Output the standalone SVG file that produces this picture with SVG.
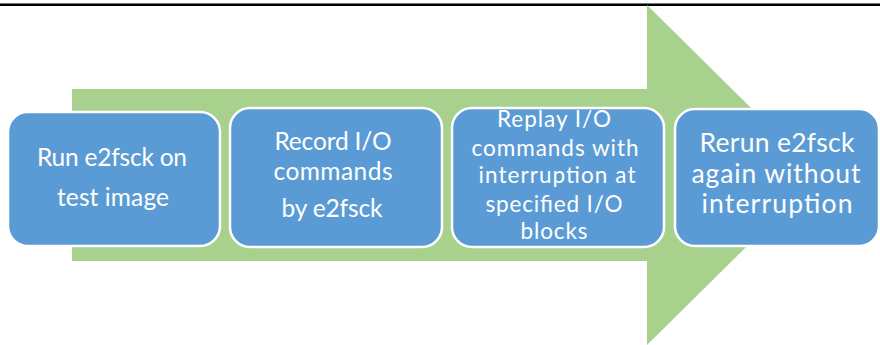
<svg xmlns="http://www.w3.org/2000/svg" width="880" height="345" viewBox="0 0 880 345">
  <style>
    .step rect { fill: #5B9BD5; stroke: #FFFFFF; stroke-width: 2.5; }
    .step text { fill: #FFFFFF; font-family: Lato, "Open Sans", "Liberation Sans", sans-serif; text-anchor: middle; }
    .s1 text, .s2 text { font-size: 24.5px; }
    .s3 text { font-size: 22.5px; }
    .s4 text { font-size: 26.5px; }
  </style>

  <!-- rule along the top edge -->
  <rect x="0" y="3" width="880" height="1" fill="#777777"/>
  <rect x="0" y="4" width="880" height="2" fill="#000000"/>

  <!-- connectors: the process arrow behind the steps -->
  <g id="connectors">
    <polygon points="72,89 647,89 647,5 819,175 647,345 647,261 72,261" fill="#A9D18E"/>
  </g>

  <g id="step1" class="step s1">
    <rect x="8" y="112" width="212" height="134" rx="20" ry="20"/>
    <text x="112" y="166" textLength="150" lengthAdjust="spacing">Run e2fsck on</text>
    <text x="113" y="206" textLength="112" lengthAdjust="spacing">test image</text>
  </g>

  <g id="step2" class="step s2">
    <rect x="230" y="108" width="212" height="139" rx="20" ry="20"/>
    <text x="333" y="150" textLength="117" lengthAdjust="spacing">Record I/O</text>
    <text x="333" y="180" textLength="119" lengthAdjust="spacing">commands</text>
    <text x="332" y="217" textLength="101" lengthAdjust="spacing">by e2fsck</text>
  </g>

  <g id="step3" class="step s3">
    <rect x="452" y="108" width="212" height="139" rx="20" ry="20"/>
    <text x="554" y="127" textLength="114" lengthAdjust="spacing">Replay I/O</text>
    <text x="555" y="156" textLength="167" lengthAdjust="spacing">commands with</text>
    <text x="557" y="183" textLength="157" lengthAdjust="spacing">interruption  at</text>
    <text x="554" y="212" textLength="137" lengthAdjust="spacing">specified I/O</text>
    <text x="554" y="239" textLength="67" lengthAdjust="spacing">blocks</text>
  </g>

  <g id="step4" class="step s4">
    <rect x="675" y="109" width="204" height="137" rx="20" ry="20"/>
    <text x="777" y="152" textLength="155" lengthAdjust="spacing">Rerun e2fsck</text>
    <text x="776" y="183" textLength="169" lengthAdjust="spacing">again without</text>
    <text x="777" y="213" textLength="151" lengthAdjust="spacing">interruption</text>
  </g>
</svg>
